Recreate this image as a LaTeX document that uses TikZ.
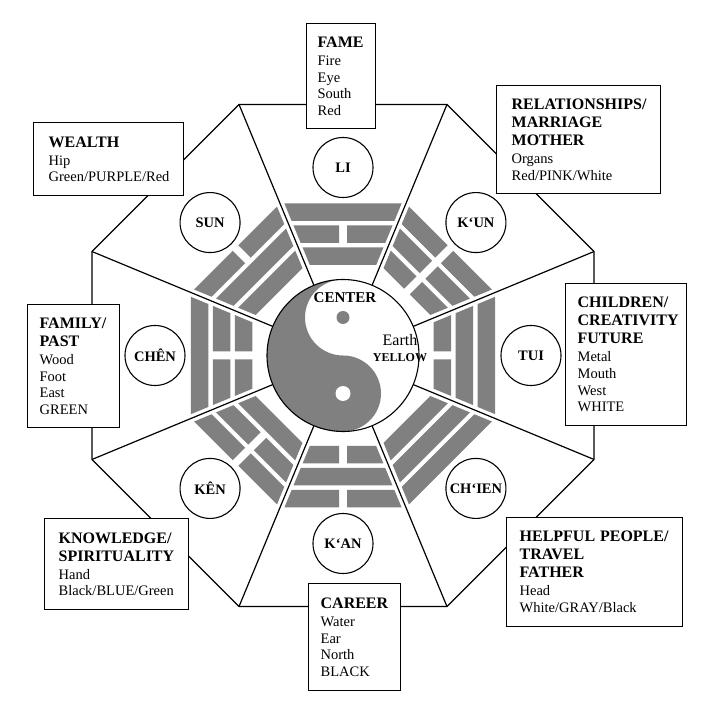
\documentclass[tikz,border=0pt]{standalone}
\usepackage{fontspec}
\setmainfont{Liberation Serif}
\definecolor{bargray}{RGB}{128,128,128}
\hyphenpenalty=10000
\exhyphenpenalty=10000
\newcommand\hd[1]{{\fontsize{16}{16.7}\selectfont\bfseries #1}}
% #1 angle, #2 inner distance, #3 outer distance
\newcommand\barsolid[3]{%
  \fill[bargray, rotate=#1] (#2,{-(#2*0.41421-4.33)}) -- (#3,{-(#3*0.41421-4.33)}) -- (#3,{#3*0.41421-4.33}) -- (#2,{#2*0.41421-4.33}) -- cycle;}
\newcommand\barbroken[3]{%
  \fill[bargray, rotate=#1] (#2,{-(#2*0.41421-4.33)}) -- (#3,{-(#3*0.41421-4.33)}) -- (#3,-4) -- (#2,-4) -- cycle;
  \fill[bargray, rotate=#1] (#2,4) -- (#3,4) -- (#3,{#3*0.41421-4.33}) -- (#2,{#2*0.41421-4.33}) -- cycle;}
\newcommand\onebar[4]{\ifnum#4=1 \barsolid{#1}{#2}{#3}\else\barbroken{#1}{#2}{#3}\fi}
% #1 angle, #2 inner, #3 middle, #4 outer (1 solid, 0 broken)
\newcommand\trigram[4]{%
  \onebar{#1}{90.5}{108}{#2}%
  \onebar{#1}{112.5}{130}{#3}%
  \onebar{#1}{134.5}{152}{#4}}
\begin{document}
\begin{tikzpicture}[x=1pt,y=1pt,
  box/.style={draw, line width=1.3pt, fill=white, anchor=north west, align=left,
    inner ysep=0pt, font=\fontsize{14.5}{16.7}\selectfont},
  lab/.style={draw, circle, line width=1.1pt, fill=white, minimum size=60pt,
    inner sep=0pt, font=\fontsize{14.5}{15}\selectfont\bfseries},
  edgeline/.style={line width=1.2pt}]
\useasboundingbox (-343,-347.5) rectangle (377,355.5);
\fill[white] (-343,-347.5) rectangle (377,355.5);

% octagon vertices and spoke start points
\foreach \i in {1,...,8}{
  \coordinate (v\i) at ({22.5+45*(\i-1)}:271.7);
  \coordinate (s\i) at ({22.5+45*(\i-1)}:76);
}
\draw[edgeline] (v1) -- (v2) -- (v3) -- (v4) -- (v5) -- (v6) -- (v7) -- (v8) -- cycle;
\foreach \i in {1,...,8} \draw[edgeline] (s\i) -- (v\i);

% trigrams
\trigram{90}{1}{0}{1}   % LI
\trigram{45}{0}{0}{0}   % K'UN
\trigram{0}{0}{1}{1}    % TUI
\trigram{-45}{1}{1}{1}  % CH'IEN
\trigram{-90}{0}{1}{0}  % K'AN
\trigram{-135}{1}{0}{0} % KEN
\trigram{180}{0}{0}{1}  % CHEN
\trigram{135}{1}{1}{0}  % SUN

% yin-yang
\fill[bargray] (0,76) arc[start angle=90, end angle=270, radius=76]
  arc[start angle=-90, end angle=90, radius=38]
  arc[start angle=-90, end angle=-270, radius=38] -- cycle;
\fill[bargray] (0,38) circle (6.5);
\fill[white] (0,-38) circle (7.5);
\draw[line width=1.1pt] (0,0) circle (76);

\node[font=\fontsize{15}{15}\selectfont\bfseries, inner sep=0pt] (ctr) at (2,57.5) {CENTER};
\node[font=\fontsize{16}{16}\selectfont, inner sep=0pt] (earth) at (57,15) {Earth};
\node[font=\fontsize{12}{12}\selectfont\bfseries, inner sep=0pt] (yel) at (57,-2) {YELLOW};

% trigram name circles
\node[lab] (li) at (90:188) {LI};
\node[lab] (kun) at (45:188) {K‘UN};
\node[lab] (tui) at (0:188) {TUI};
\node[lab] (chien) at (-45:188) {CH‘IEN};
\node[lab] (kan) at (-90:188) {K‘AN};
\node[lab] (ken) at (-135:188) {KÊN};
\node[lab] (chen) at (180:188) {CHÊN};
\node[lab] (sun) at (135:188) {SUN};

% boxes
\node[box, inner xsep=11pt, text width=47pt, minimum height=105pt] (fame) at (-37,332.5)
  {\hd{FAME}\\[1.3pt]Fire\\Eye\\South\\Red};
\node[box, inner xsep=15pt, text width=120pt, minimum height=73pt] (wealth) at (-310,233.5)
  {\hd{WEALTH}\\[1.3pt]Hip\\Green/PURPLE/Red};
\node[box, inner xsep=15pt, text width=134pt, minimum height=108pt] (rel) at (153,270.5)
  {\hd{RELATIONSHIPS/}\\[1.3pt]\hd{MARRIAGE}\\[1.3pt]\hd{MOTHER}\\[1.3pt]Organs\\Red/PINK/White};
\node[box, inner xsep=12pt, text width=97pt, minimum height=142pt] (child) at (222,72.5)
  {\hd{CHILDREN/}\\[1.3pt]\hd{CREATIVITY}\\[1.3pt]\hd{FUTURE}\\[1.3pt]Metal\\Mouth\\West\\WHITE};
\node[box, inner xsep=13pt, text width=150pt, minimum height=109pt] (help) at (163,-161.5)
  {\hd{HELPFUL PEOPLE/}\\[1.3pt]\hd{TRAVEL}\\[1.3pt]\hd{FATHER}\\[1.3pt]Head\\White/GRAY/Black};
\node[box, inner xsep=12pt, text width=68pt, minimum height=107pt] (career) at (-35,-227.5)
  {\hd{CAREER}\\[1.3pt]Water\\Ear\\North\\BLACK};
\node[box, inner xsep=14pt, text width=116pt, minimum height=91pt] (know) at (-299,-162.5)
  {\hd{KNOWLEDGE/}\\[1.3pt]\hd{SPIRITUALITY}\\[1.3pt]Hand\\Black/BLUE/Green};
\node[box, inner xsep=12pt, text width=68pt, minimum height=123pt] (family) at (-316,51.5)
  {\hd{FAMILY/}\\[1.3pt]\hd{PAST}\\[1.3pt]Wood\\Foot\\East\\GREEN};
\end{tikzpicture}
\end{document}
